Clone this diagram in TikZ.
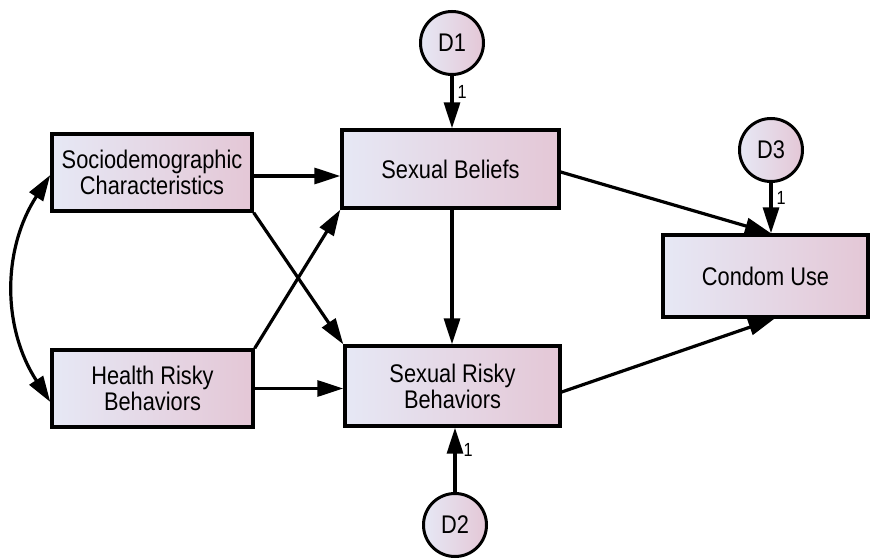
\documentclass[tikz,border=0pt]{standalone}
\usepackage{fontspec}
\setmainfont[FakeStretch=0.855]{Liberation Sans}
\usetikzlibrary{arrows.meta,calc}
\definecolor{gl}{RGB}{230,232,245}
\definecolor{gr}{RGB}{228,199,214}
\tikzset{
  var/.style={draw=black, line width=3.4pt, left color=gl, right color=gr, inner sep=0pt, align=center,
    font=\fontsize{25.5}{26}\selectfont},
  err/.style={circle, draw=black, line width=3pt, left color=gl, right color=gr, inner sep=0pt,
    minimum size=63pt, font=\fontsize{25.5}{26}\selectfont},
  path/.style={line width=3.2pt, -{Triangle[length=26pt,width=16pt]}},
  cov/.style={line width=3.2pt, {Triangle[length=26pt,width=16pt]}-{Triangle[length=26pt,width=16pt]}},
  one/.style={font=\fontsize{19}{19}\selectfont, inner sep=0pt}
}
\begin{document}
\begin{tikzpicture}[x=1pt,y=-1pt]
\useasboundingbox (0,0) rectangle (870,559);
\node[var, minimum width=200pt, minimum height=77pt] (soc) at (152,172.5) {Sociodemographic\\Characteristics};
\node[var, minimum width=201pt, minimum height=77pt] (hr) at (152.5,388.5) {Health Risky\\Behaviors};
\node[var, minimum width=217pt, minimum height=78pt] (sb) at (450.5,169) {Sexual Beliefs};
\node[var, minimum width=215pt, minimum height=80pt] (srb) at (452.5,386) {Sexual Risky\\Behaviors};
\node[var, minimum width=205pt, minimum height=82pt] (cu) at (765.5,276) {Condom Use};
\node[err] (d1) at (452,43) {D1};
\node[err] (d2) at (455,525) {D2};
\node[err] (d3) at (771,150) {D3};
% paths
\draw[path] ([yshift=-3.5pt]soc.east) -- ([yshift=-3.5pt]soc.east -| sb.west);
\draw[path] (hr.east) -- (hr.east -| srb.west);
\draw[path] (soc.south east) -- (srb.north west);
\draw[path] (hr.north east) -- (sb.south west);
\draw[path] (d1 |- sb.south) -- (d1 |- srb.north);
\draw[path] ([yshift=-3pt]sb.east) -- (d3 |- cu.north);
\draw[path] ([yshift=-6pt]srb.east) -- ([xshift=9pt]cu.south);
\draw[path] (d1.south) -- (d1 |- sb.north) node[one, pos=0.3, right=4pt] {1};
\draw[path] (d3.south) -- (d3 |- cu.north) node[one, pos=0.3, right=4pt] {1};
\draw[path] (d2.north) -- (d2 |- srb.south) node[one, pos=0.66, right=7pt] {1};
\draw[cov] ([yshift=-2.5pt]soc.west) to[bend right=33] ([yshift=-13.5pt]hr.west);
\end{tikzpicture}
\end{document}
